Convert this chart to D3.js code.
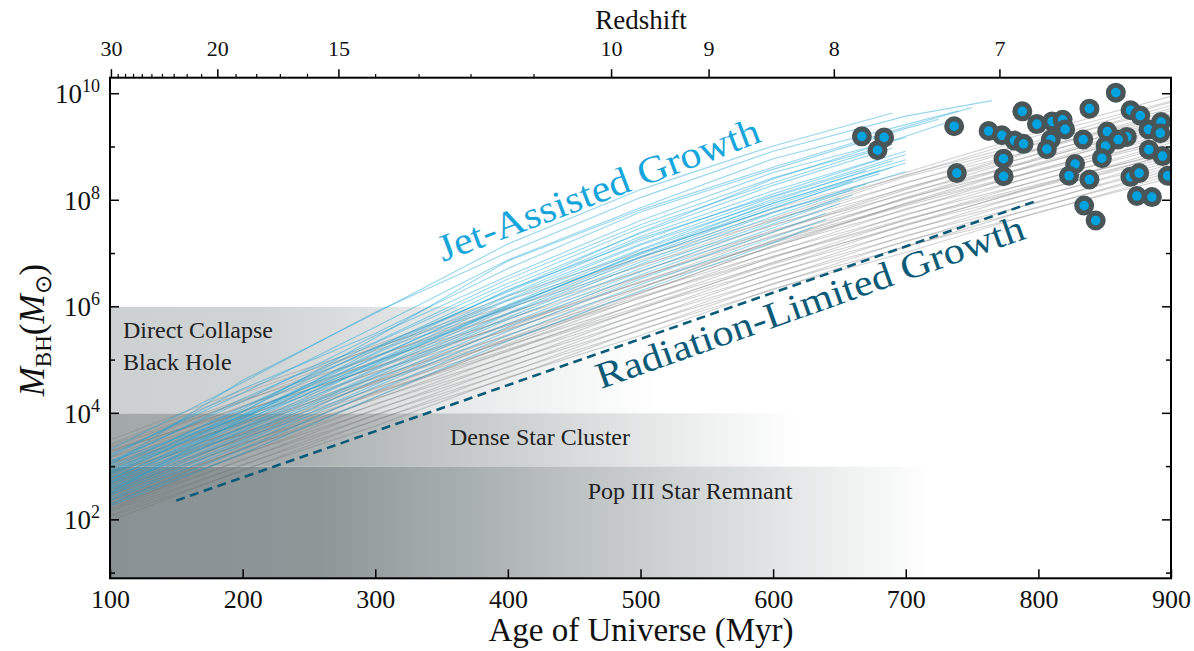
<!DOCTYPE html>
<html>
<head>
<meta charset="utf-8">
<script src="https://cdn.jsdelivr.net/npm/d3@7"></script>
<style>
body { margin: 0; background: #fff; }
text { font-family: "Liberation Serif", serif; }
</style>
</head>
<body>
<script>
// ---- data ----
var ageTicks = [100, 200, 300, 400, 500, 600, 700, 800, 900];
var massExps = [1, 2, 3, 4, 5, 6, 7, 8, 9, 10];
var zMajor = [30, 20, 15, 10, 9, 8, 7];
var zMinor = [29, 28, 27, 26, 25, 24, 23, 22, 21, 19, 18, 17, 16, 14, 13, 12, 11];

// seed mass bands
var seedNames = ["Pop III Star Remnant", "Dense Star Cluster", "Direct Collapse Black Hole"];
var seedLo = [8, 1e3, 1e4];
var seedHi = [1e3, 1e4, 1e6];

// radiation-limited (Eddington) growth line
var eddAge = [150, 800];
var eddMass = [2.3e2, 1e8];

// gray tracks: log10 mass at grayAges
var grayAges = [100, 200, 300, 400, 500, 600, 700, 800, 900];
var grayTracks = [
  [3.5, 4.44, 5.28, 6.2, 7.02, 7.84, 8.52, 9.28, 9.95],
  [3.42, 4.38, 5.22, 6.12, 6.92, 7.78, 8.46, 9.22, 9.86],
  [3.4, 4.26, 5.24, 6.02, 6.94, 7.66, 8.48, 9.12, 9.84],
  [3.36, 4.22, 5.18, 5.96, 6.88, 7.62, 8.44, 9.06, 9.78],
  [3.28, 4.24, 5.06, 5.98, 6.76, 7.64, 8.32, 9.08, 9.72],
  [3.26, 4.12, 5.08, 5.86, 6.78, 7.52, 8.34, 8.96, 9.68],
  [3.18, 4.14, 4.96, 5.88, 6.66, 7.54, 8.22, 8.98, 9.62],
  [3.16, 4.02, 4.98, 5.76, 6.68, 7.42, 8.24, 8.86, 9.58],
  [3.08, 4.04, 4.86, 5.78, 6.56, 7.44, 8.12, 8.88, 9.52],
  [3.06, 3.92, 4.88, 5.66, 6.58, 7.32, 8.14, 8.76, 9.48],
  [2.98, 3.94, 4.76, 5.68, 6.46, 7.34, 8.02, 8.78, 9.42],
  [2.96, 3.82, 4.78, 5.56, 6.48, 7.22, 8.04, 8.66, 9.38],
  [2.88, 3.84, 4.66, 5.58, 6.36, 7.24, 7.92, 8.68, 9.32],
  [2.86, 3.72, 4.68, 5.46, 6.38, 7.12, 7.94, 8.56, 9.28],
  [2.78, 3.74, 4.56, 5.48, 6.26, 7.14, 7.82, 8.58, 9.22],
  [2.76, 3.62, 4.58, 5.36, 6.28, 7.02, 7.84, 8.46, 9.18],
  [2.68, 3.64, 4.46, 5.38, 6.16, 7.04, 7.72, 8.48, 9.12],
  [2.66, 3.52, 4.48, 5.26, 6.18, 6.92, 7.74, 8.36, 9.08],
  [2.58, 3.54, 4.36, 5.28, 6.06, 6.94, 7.62, 8.38, 9.02],
  [2.56, 3.42, 4.38, 5.16, 6.08, 6.82, 7.64, 8.26, 8.98],
  [2.48, 3.44, 4.26, 5.18, 5.96, 6.84, 7.52, 8.28, 8.92],
  [2.46, 3.32, 4.28, 5.06, 5.98, 6.72, 7.54, 8.16, 8.88],
  [2.38, 3.34, 4.16, 5.08, 5.86, 6.74, 7.42, 8.18, 8.82],
  [2.36, 3.22, 4.18, 4.96, 5.88, 6.62, 7.44, 8.06, 8.78],
  [2.28, 3.24, 4.06, 4.98, 5.76, 6.64, 7.32, 8.08, 8.72],
  [2.26, 3.12, 4.08, 4.86, 5.78, 6.52, 7.34, 7.96, 8.68],
  [2.18, 3.14, 3.96, 4.88, 5.66, 6.54, 7.22, 7.98, 8.62],
  [2.16, 3.02, 3.98, 4.76, 5.68, 6.42, 7.24, 7.86, 8.58],
  [2.08, 3.04, 3.86, 4.78, 5.56, 6.44, 7.12, 7.88, 8.52],
  [2.06, 2.92, 3.88, 4.66, 5.58, 6.32, 7.14, 7.76, 8.48],
  [1.98, 2.94, 3.76, 4.68, 5.46, 6.34, 7.02, 7.78, 8.42],
  [2.2, 3.25, 4.3, 5.3, 6.25, 7.15, 7.95, 8.7, 9.4],
  [3.3, 4.05, 4.85, 5.65, 6.45, 7.2, 7.9, 8.55, 9.15],
  [2.5, 3.55, 4.6, 5.6, 6.55, 7.4, 8.2, 8.95, 9.6],
  [3.05, 3.8, 4.6, 5.4, 6.2, 6.95, 7.65, 8.3, 8.9],
  [2.3, 3.35, 4.4, 5.4, 6.35, 7.25, 8.05, 8.8, 9.5],
  [2.9, 3.6, 4.4, 5.2, 6.0, 6.8, 7.55, 8.25, 8.85]
];

// jet-assisted tracks: [age Myr, log10 mass]
var jetTracks = [
  [[100,3.32],[200,4.58],[300,5.9],[400,7.02],[500,8.05],[600,8.92],[700,9.58],[765,9.87]],
  [[100,3.22],[200,4.38],[300,5.62],[400,6.88],[500,7.86],[600,8.78],[700,9.42],[740,9.68]],
  [[100,3.18],[200,4.46],[300,5.5],[400,6.72],[500,7.78],[600,8.58],[700,9.35],[725,9.52]],
  [[100,3.1],[200,4.22],[300,5.46],[400,6.58],[500,7.62],[600,8.52],[700,9.18]],
  [[100,3.06],[200,4.28],[300,5.34],[400,6.52],[500,7.54],[600,8.42],[690,9.05]],
  [[100,3.0],[200,4.08],[300,5.32],[400,6.44],[500,7.48],[600,8.33],[680,8.96]],
  [[100,2.96],[200,4.12],[300,5.22],[400,6.38],[500,7.38],[600,8.28],[690,8.98]],
  [[100,2.92],[200,4.04],[300,5.24],[400,6.28],[500,7.32],[600,8.18],[700,8.92]],
  [[100,2.88],[200,3.96],[300,5.14],[400,6.32],[500,7.24],[600,8.12],[680,8.76]],
  [[100,2.86],[200,3.92],[300,5.12],[400,6.22],[500,7.28],[600,8.08],[700,8.86]],
  [[100,2.82],[200,3.98],[300,5.04],[400,6.2],[500,7.18],[600,8.06],[690,8.74]],
  [[100,2.78],[200,3.84],[300,5.06],[400,6.14],[500,7.16],[600,7.98],[670,8.56]],
  [[100,2.76],[200,3.9],[300,4.98],[400,6.12],[500,7.08],[600,8.02],[700,8.76]],
  [[100,2.72],[200,3.8],[300,4.96],[400,6.04],[500,7.06],[600,7.94],[680,8.56]],
  [[100,2.7],[200,3.86],[300,4.9],[400,6.02],[500,6.98],[600,7.9],[690,8.62]],
  [[100,2.68],[200,3.74],[300,4.92],[400,5.98],[500,7.02],[600,7.84],[660,8.36]],
  [[100,2.64],[200,3.72],[300,4.84],[400,5.96],[500,6.94],[600,7.86],[680,8.5]],
  [[100,2.6],[200,3.68],[300,4.82],[400,5.88],[500,6.92],[600,7.78],[700,8.54]],
  [[100,2.58],[200,3.66],[300,4.74],[400,5.86],[500,6.84],[600,7.76],[670,8.3]],
  [[100,2.54],[200,3.6],[300,4.72],[400,5.8],[500,6.8],[600,7.7],[660,8.2]],
  [[100,2.5],[200,3.56],[300,4.68],[400,5.76],[500,6.72],[600,7.6],[650,8.04]],
  [[100,2.46],[200,3.5],[300,4.62],[400,5.68],[500,6.66],[600,7.56],[660,8.1]],
  [[100,2.4],[200,3.46],[300,4.54],[400,5.62],[500,6.6],[600,7.48],[650,7.94]],
  [[100,2.36],[200,3.4],[300,4.5],[400,5.54],[500,6.52],[600,7.4],[640,7.76]],
  [[100,2.3],[200,3.32],[300,4.42],[400,5.46],[500,6.42],[600,7.3],[640,7.64]],
  [[100,2.26],[200,3.24],[300,4.3],[400,5.36],[500,6.3],[600,7.2],[630,7.5]],
  [[100,3.02],[200,4.62],[300,5.88],[400,7.18],[500,8.2],[600,9.02],[690,9.64]],
  [[100,2.9],[200,4.02],[300,5.42],[400,6.86],[500,7.82],[600,8.62],[700,9.38],[750,9.74]],
  [[100,2.5],[200,3.9],[300,5.2],[400,6.3],[500,7.4],[600,8.4],[700,9.2],[730,9.45]],
  [[100,3.1],[200,3.95],[300,4.95],[400,6.0],[500,7.0],[600,7.95],[700,8.7]]
];

// observed high-z quasars: [age Myr, log10 mass]
var quasars = [
  [666.9,9.2],[683.7,9.18],[678.7,8.94],[736.5,9.39],[738.5,8.51],[762.5,9.3],
  [772.5,9.22],[782,9.12],[788.8,9.06],[773.7,8.78],[773.8,8.45],[787.9,9.67],
  [798.9,9.43],[810.4,9.48],[818.3,9.51],[820.2,9.33],[809.4,9.14],[806.4,8.96],
  [833.8,9.14],[838.5,9.72],[851.9,9.29],[850.7,9.02],[847.9,8.79],[858.4,10.02],
  [866.7,9.19],[860.2,9.14],[869.5,9.69],[876.8,9.59],[883,9.33],[892.5,9.47],
  [891.9,9.26],[883.3,8.95],[893.6,8.83],[827.7,8.68],[823.1,8.46],[838.5,8.39],
  [869.4,8.44],[876,8.51],[874.3,8.08],[885.6,8.06],[834.5,7.9],[843.2,7.62],
  [897.5,8.46]
];

// ---- drawing ----
var W = 1194, H = 651;
var L = 110, R = 1171, T = 77.7, B = 578.3;

var svg = d3.select("body").append("svg").attr("width", W).attr("height", H);
var x = d3.scaleLinear().domain([100, 900]).range([L, R]);
var y = d3.scaleLog().domain([8, 2e10]).range([B, T]);
var ageOfZ = function(z) { return 17446 * Math.pow(1 + z, -1.5); };

var defs = svg.append("defs");
defs.append("clipPath").attr("id", "plot")
  .append("rect").attr("x", L).attr("y", T).attr("width", R - L).attr("height", B - T);

var bandColor = ["#889193", "#a3a9aa", "#cdd1d2"];
var bandFade = [720, 620, 515];
seedNames.forEach(function(n, i) {
  var g = defs.append("linearGradient").attr("id", "band" + i)
    .attr("gradientUnits", "userSpaceOnUse")
    .attr("x1", L).attr("x2", x(bandFade[i])).attr("y1", 0).attr("y2", 0);
  g.append("stop").attr("offset", 0).attr("stop-color", bandColor[i]).attr("stop-opacity", 1);
  g.append("stop").attr("offset", 0.25).attr("stop-color", bandColor[i]).attr("stop-opacity", 0.96);
  g.append("stop").attr("offset", 1).attr("stop-color", bandColor[i]).attr("stop-opacity", 0);
});

var plot = svg.append("g").attr("clip-path", "url(#plot)");

plot.selectAll("rect.band").data(seedNames).enter().append("rect")
  .attr("class", "band")
  .attr("x", L).attr("width", R - L)
  .attr("y", function(d, i) { return y(seedHi[i]); })
  .attr("height", function(d, i) { return y(seedLo[i]) - y(seedHi[i]); })
  .attr("fill", function(d, i) { return "url(#band" + i + ")"; });

var line = d3.line()
  .x(function(d) { return x(d[0]); })
  .y(function(d) { return y(Math.pow(10, d[1])); });

plot.selectAll("path.gray").data(grayTracks).enter().append("path")
  .attr("class", "gray")
  .attr("d", function(t) { return line(t.map(function(v, i) { return [grayAges[i], v]; })); })
  .attr("fill", "none").attr("stroke", "#777").attr("stroke-opacity", 0.33).attr("stroke-width", 1.1);

plot.selectAll("path.jet").data(jetTracks).enter().append("path")
  .attr("class", "jet")
  .attr("d", line)
  .attr("fill", "none").attr("stroke", "#1ba3d8").attr("stroke-opacity", 0.45).attr("stroke-width", 1.1);

plot.append("line")
  .attr("x1", x(eddAge[0])).attr("y1", y(eddMass[0]))
  .attr("x2", x(eddAge[1])).attr("y2", y(eddMass[1]))
  .attr("stroke", "#0b5b78").attr("stroke-width", 2.6).attr("stroke-dasharray", "9,5.5");

// band labels
var lab = svg.append("g").attr("font-size", 24).attr("fill", "#222");
lab.append("text").attr("x", 123).attr("y", 338).text("Direct Collapse");
lab.append("text").attr("x", 123).attr("y", 369.5).text("Black Hole");
lab.append("text").attr("x", 540).attr("y", 445).attr("text-anchor", "middle").text(seedNames[1]);
lab.append("text").attr("x", 690).attr("y", 499).attr("text-anchor", "middle").text(seedNames[0]);

svg.append("text")
  .attr("transform", "translate(443,262) rotate(-20.7)")
  .attr("font-size", 38).attr("fill", "#17a6dc")
  .attr("textLength", 342).attr("lengthAdjust", "spacingAndGlyphs")
  .text("Jet-Assisted Growth");
svg.append("text")
  .attr("transform", "translate(601,389) rotate(-19.5)")
  .attr("font-size", 37).attr("fill", "#0b5b78")
  .attr("textLength", 452).attr("lengthAdjust", "spacingAndGlyphs")
  .text("Radiation-Limited Growth");

// quasars
plot.selectAll("circle.q").data(quasars).enter().append("circle")
  .attr("class", "q")
  .attr("cx", function(d) { return x(d[0]); })
  .attr("cy", function(d) { return y(Math.pow(10, d[1])); })
  .attr("r", 7.4)
  .attr("fill", "#00a3df").attr("stroke", "#4a5558").attr("stroke-width", 5.2);

// bottom axis
var gx = svg.append("g").attr("transform", "translate(0," + B + ")")
  .call(d3.axisBottom(x).tickValues(ageTicks).tickSize(-9).tickPadding(11).tickFormat(d3.format("d")));
gx.select(".domain").remove();
gx.attr("font-family", "Liberation Serif").attr("font-size", 26);
gx.selectAll("line").attr("stroke", "#000").attr("stroke-width", 1.5);
gx.selectAll("text").attr("fill", "#111");

// left & right ticks
var ticks = svg.append("g").attr("stroke", "#000").attr("stroke-width", 1.5);
massExps.forEach(function(e) {
  var yy = y(Math.pow(10, e));
  var len = e % 2 === 0 ? 9 : 5;
  ticks.append("line").attr("x1", L).attr("x2", L + len).attr("y1", yy).attr("y2", yy);
  ticks.append("line").attr("x1", R).attr("x2", R - len).attr("y1", yy).attr("y2", yy);
});
var ylab = svg.append("g").attr("fill", "#111");
massExps.filter(function(e) { return e % 2 === 0; }).forEach(function(e) {
  var t = ylab.append("text").attr("x", 100).attr("y", y(Math.pow(10, e)) + 9.5)
    .attr("text-anchor", "end").attr("font-size", 27);
  t.append("tspan").text("10");
  t.append("tspan").attr("font-size", 18).attr("dy", -11).text(e);
});

// top redshift axis
var gTop = svg.append("g");
zMajor.forEach(function(z) {
  var xx = x(ageOfZ(z));
  gTop.append("line").attr("x1", xx).attr("x2", xx).attr("y1", T).attr("y2", T - 8.5)
    .attr("stroke", "#000").attr("stroke-width", 1.5);
  gTop.append("text").attr("x", xx).attr("y", 55.7).attr("text-anchor", "middle")
    .attr("font-size", 22).attr("fill", "#111").text(z);
});
zMinor.forEach(function(z) {
  var xx = x(ageOfZ(z));
  gTop.append("line").attr("x1", xx).attr("x2", xx).attr("y1", T).attr("y2", T - 3.8)
    .attr("stroke", "#000").attr("stroke-width", 1.2);
});

// frame
svg.append("rect").attr("x", L).attr("y", T).attr("width", R - L).attr("height", B - T)
  .attr("fill", "none").attr("stroke", "#000").attr("stroke-width", 2);

// axis titles
svg.append("text").attr("x", 641).attr("y", 641).attr("text-anchor", "middle")
  .attr("font-size", 33).attr("fill", "#111").text("Age of Universe (Myr)");
svg.append("text").attr("x", 641).attr("y", 29).attr("text-anchor", "middle")
  .attr("font-size", 27).attr("fill", "#111").text("Redshift");

var yt = svg.append("text").attr("transform", "translate(44,330) rotate(-90)")
  .attr("text-anchor", "middle").attr("font-size", 35).attr("fill", "#111");
yt.append("tspan").attr("font-style", "italic").text("M");
yt.append("tspan").attr("font-size", 23).attr("dy", 7).text("BH");
yt.append("tspan").attr("dy", -7).text("(");
yt.append("tspan").attr("font-style", "italic").text("M");
yt.append("tspan").attr("font-size", 23).attr("dy", 7).text("\u2299");
yt.append("tspan").attr("dy", -7).text(")");
</script>
</body>
</html>
